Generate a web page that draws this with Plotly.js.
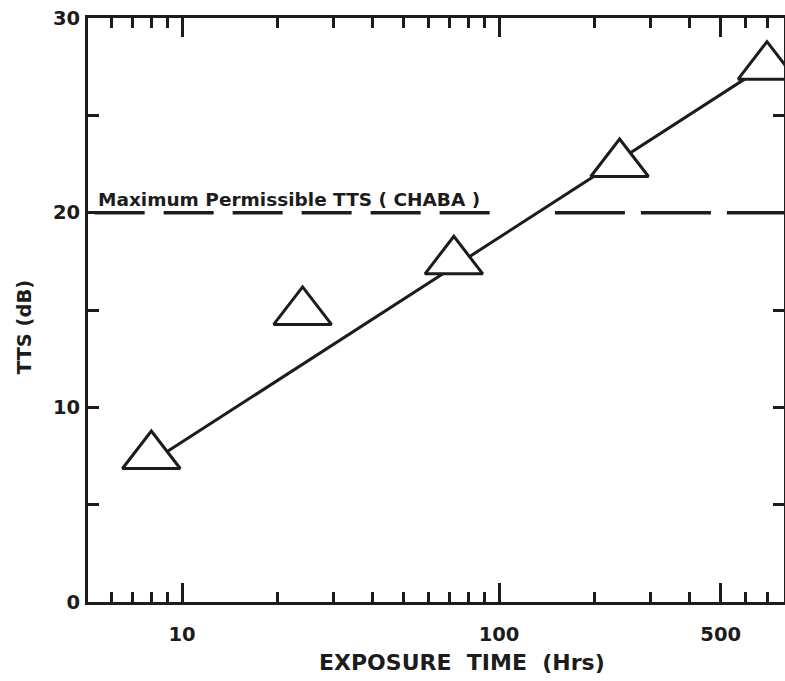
<!DOCTYPE html>
<html>
<head>
<meta charset="utf-8">
<script src="https://cdn.plot.ly/plotly-3.0.1.min.js"></script>
<style>
  html, body { margin: 0; padding: 0; background: #fff; overflow: hidden; }
  #chart { width: 785px; height: 681px; }
</style>
</head>
<body>
<div id="chart"></div>
<script>
// ---- data ----
var exposureHours = [8, 24, 72, 240, 700];
var ttsDb         = [7.5, 14.9, 17.5, 22.5, 27.5];

var fitHours = [8, 700];
var fitTts   = [7.2, 27.6];

var limitTts = 20;
var limitLeftHours  = [5.3, 104];
var limitRightHours = [150, 820];
var limitLabel = "Maximum Permissible TTS ( CHABA )";

var xMajorTicks  = [10, 100, 500];
var xMajorLabels = ["10", "100", "500"];
var xMinorTicks  = [6, 7, 8, 9, 20, 30, 40, 50, 60, 70, 80, 90, 200, 300, 400, 600, 700];
var yMajorTicks  = [0, 10, 20, 30];
var yMinorTicks  = [5, 15, 25];

var xTitle = "EXPOSURE  TIME  (Hrs)";
var yTitle = "TTS (dB)";

// ---- styling ----
var ink = "#1c1c1c";
var fontFam = "DejaVu Sans, Arial, sans-serif";

var traces = [
  {
    x: limitLeftHours, y: [limitTts, limitTts], mode: "lines", type: "scatter",
    line: { color: ink, width: 3.5, dash: "50px,19px" }, hoverinfo: "skip", showlegend: false
  },
  {
    x: limitRightHours, y: [limitTts, limitTts], mode: "lines", type: "scatter",
    line: { color: ink, width: 3.5, dash: "70px,16px" }, hoverinfo: "skip", showlegend: false
  },
  {
    x: fitHours, y: fitTts, mode: "lines", type: "scatter",
    line: { color: ink, width: 3 }, showlegend: false
  },
  {
    x: exposureHours, y: ttsDb, mode: "markers", type: "scatter",
    marker: { symbol: "triangle-up", size: 50, color: "#ffffff", line: { color: ink, width: 3 } },
    showlegend: false
  }
];

var layout = {
  width: 785, height: 681,
  margin: { l: 88, r: 1, t: 18, b: 79 },
  paper_bgcolor: "#ffffff", plot_bgcolor: "#ffffff",
  font: { family: fontFam, color: ink, size: 19, weight: "bold" },
  xaxis: {
    type: "log",
    range: [Math.log10(5.05), Math.log10(792)],
    showgrid: false, zeroline: false,
    showline: true, linecolor: ink, linewidth: 3,
    mirror: "ticks",
    ticks: "inside", ticklen: 19, tickwidth: 3, tickcolor: ink,
    tickmode: "array", tickvals: xMajorTicks, ticktext: xMajorLabels,
    tickfont: { family: fontFam, size: 19.5, color: ink, weight: "bold" },
    ticklabelstandoff: 13,
    minor: { tickmode: "array", tickvals: xMinorTicks, ticks: "inside", ticklen: 10, tickwidth: 3, tickcolor: ink, showgrid: false }
  },
  yaxis: {
    range: [0, 30],
    showgrid: false, zeroline: false,
    showline: true, linecolor: ink, linewidth: 3,
    mirror: "ticks",
    ticks: "inside", ticklen: 11, tickwidth: 3, tickcolor: ink,
    tickmode: "array", tickvals: yMajorTicks,
    tickfont: { family: fontFam, size: 19.5, color: ink, weight: "bold" },
    ticklabelstandoff: 1,
    minor: { tickmode: "array", tickvals: yMinorTicks, ticks: "inside", ticklen: 11, tickwidth: 3, tickcolor: ink, showgrid: false }
  },
  annotations: [
    {
      text: limitLabel, x: Math.log10(5.35), y: limitTts, xref: "x", yref: "y",
      xanchor: "left", yanchor: "bottom", yshift: 1, showarrow: false,
      font: { family: fontFam, size: 18.5, color: ink, weight: "bold" }
    },
    {
      text: xTitle, xref: "paper", yref: "paper", x: 0.537, y: -0.103,
      xanchor: "center", yanchor: "middle", showarrow: false,
      font: { family: fontFam, size: 22, color: ink, weight: "bold" }
    },
    {
      text: yTitle, xref: "paper", yref: "paper", x: -0.09, y: 0.471,
      xanchor: "center", yanchor: "middle", textangle: -90, showarrow: false,
      font: { family: fontFam, size: 19.5, color: ink, weight: "bold" }
    }
  ]
};

Plotly.newPlot("chart", traces, layout, { displayModeBar: false, staticPlot: true });
</script>
</body>
</html>
